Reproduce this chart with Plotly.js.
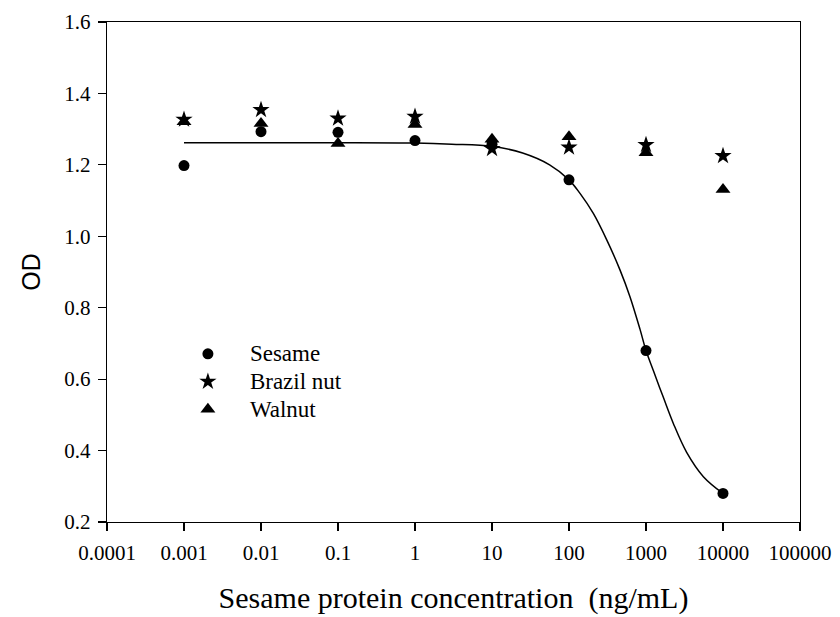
<!DOCTYPE html>
<html>
<head>
<meta charset="utf-8">
<script src="https://cdn.plot.ly/plotly-3.0.1.min.js"></script>
<style>html,body{margin:0;padding:0;background:#fff;}#chart{width:840px;height:617px;}</style>
</head>
<body>
<div id="chart"></div>
<script>
// Concentrations (ng/mL)
const concentrations = [0.001, 0.01, 0.1, 1, 10, 100, 1000, 10000];
// OD readings
const sesameOD   = [1.198, 1.293, 1.291, 1.268, 1.258, 1.158, 0.680, 0.280];
const brazilOD   = [1.327, 1.354, 1.330, 1.335, 1.245, 1.249, 1.256, 1.225];
const walnutOD   = [1.321, 1.316, 1.260, 1.313, 1.272, 1.279, 1.234, 1.131];
// Fitted sesame curve
const curveX = [0.001, 0.01, 0.1, 1, 3, 10, 25, 56, 100, 139, 207, 309, 459, 619, 835, 1000, 1245, 1679, 2265, 3373, 5560, 10000];
const curveY = [1.262, 1.262, 1.262, 1.261, 1.258, 1.252, 1.233, 1.200, 1.158, 1.120, 1.064, 0.990, 0.906, 0.831, 0.740, 0.680, 0.624, 0.549, 0.476, 0.395, 0.327, 0.280];
// Series names
const seriesNames = ['Sesame', 'Brazil nut', 'Walnut'];
// Axis ticks
const xTickVals = [0.0001, 0.001, 0.01, 0.1, 1, 10, 100, 1000, 10000, 100000];
const xTickText = ['0.0001', '0.001', '0.01', '0.1', '1', '10', '100', '1000', '10000', '100000'];
const yTickVals = [0.2, 0.4, 0.6, 0.8, 1.0, 1.2, 1.4, 1.6];
const yTickText = ['0.2', '0.4', '0.6', '0.8', '1.0', '1.2', '1.4', '1.6'];

const serif = 'Liberation Serif, Times New Roman, serif';
const sans = 'Liberation Sans, Arial, sans-serif';
const big = n => '<span style="font-size:23px">' + n + '</span>';

const traces = [
  {x: curveX, y: curveY, mode: 'lines', line: {color: '#000', width: 1.5, shape: 'spline', smoothing: 1}, showlegend: false, hoverinfo: 'skip'},
  {x: concentrations, y: sesameOD, mode: 'markers', name: big(seriesNames[0]),
   marker: {symbol: 'circle', size: 11, color: '#000'}},
  {x: concentrations, y: brazilOD, mode: 'markers', name: big(seriesNames[1]),
   marker: {symbol: 'star', size: 13, color: '#000'}},
  {x: concentrations, y: walnutOD, mode: 'markers', name: big(seriesNames[2]),
   marker: {symbol: 'triangle-up', size: 13, color: '#000'}}
];

const layout = {
  width: 840, height: 617,
  margin: {l: 107, r: 40, t: 22, b: 95},
  paper_bgcolor: '#fff', plot_bgcolor: '#fff',
  font: {family: serif, color: '#000', size: 21},
  showlegend: true,
  legend: {x: 0.085, y: 0.374, xanchor: 'left', yanchor: 'top', bgcolor: 'rgba(0,0,0,0)',
           font: {family: serif, size: 19, color: '#000'}, itemwidth: 74, traceorder: 'normal'},
  xaxis: {
    type: 'log', range: [-4, 5], tickmode: 'array', tickvals: xTickVals, ticktext: xTickText,
    ticks: 'outside', ticklen: 8, tickwidth: 1.2, tickcolor: '#000', ticklabelstandoff: 4,
    showline: true, linecolor: '#000', linewidth: 1.2, mirror: true,
    showgrid: false, zeroline: false,
    tickfont: {family: serif, size: 21, color: '#000'},
    title: {text: 'Sesame protein concentration\u00a0\u00a0(ng/mL)', font: {family: serif, size: 30, color: '#000'}, standoff: 22}
  },
  yaxis: {
    range: [0.2, 1.6], tickmode: 'array', tickvals: yTickVals, ticktext: yTickText,
    ticks: 'outside', ticklen: 8, tickwidth: 1.2, tickcolor: '#000', ticklabelstandoff: 3,
    showline: true, linecolor: '#000', linewidth: 1.2, mirror: true,
    showgrid: false, zeroline: false,
    tickfont: {family: serif, size: 21, color: '#000'},
    title: {text: 'OD', font: {family: sans, size: 25, color: '#000'}, standoff: 16}
  }
};

Plotly.newPlot('chart', traces, layout, {displayModeBar: false, staticPlot: true});
</script>
</body>
</html>
